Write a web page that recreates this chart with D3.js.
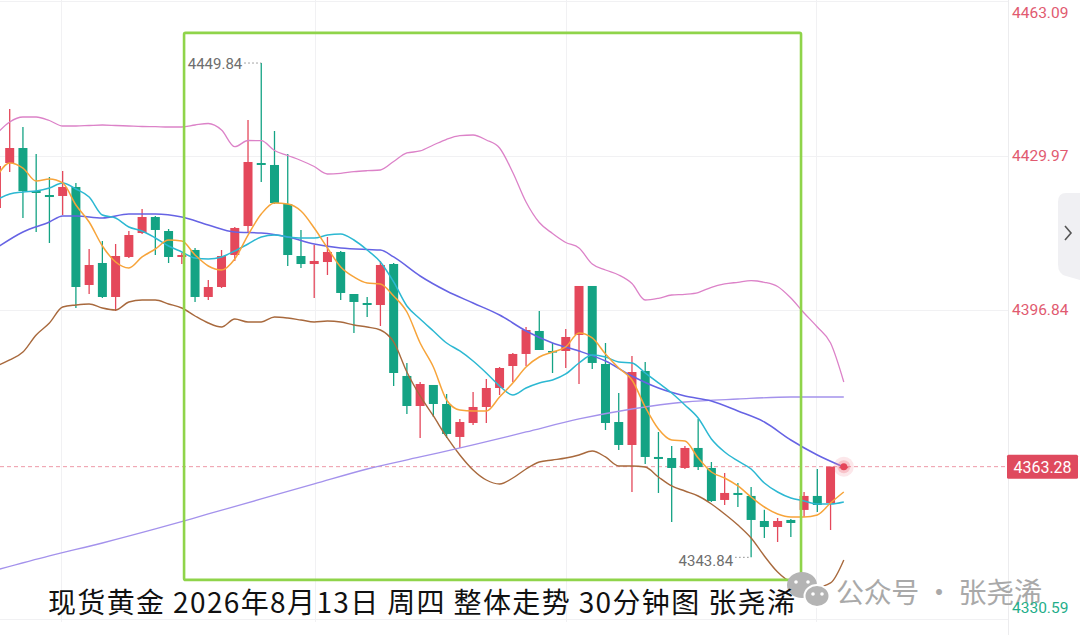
<!DOCTYPE html>
<html lang="zh">
  <head>
    <meta charset="utf-8">
    <title>现货黄金 30分钟图</title>
    <script src="https://cdn.jsdelivr.net/npm/d3@7"></script>
    <style>
      html, body { margin: 0; padding: 0; background: #fff; }
      svg { display: block; }
    </style>
  </head>
  <body>
    <svg width="1080" height="635"></svg>
    <script>
      // candles, index 0 is cut off at the left edge, 64 is the new bar
      const opens = [4418.75, 4428.40, 4431.62, 4422.40, 4421.54, 4421.33, 4423.26, 4402.24, 4406.96, 4399.67,
        4408.25, 4413.39, 4416.82, 4413.82, 4408.25, 4409.75, 4399.67, 4401.81, 4408.67, 4414.89,
        4428.40, 4427.98, 4419.61, 4408.46, 4406.74, 4407.17, 4409.32, 4400.31, 4398.38, 4397.95,
        4406.74, 4382.73, 4376.29, 4380.80, 4376.72, 4369.65, 4372.65, 4376.08, 4380.15, 4384.87,
        4387.45, 4392.38, 4388.09, 4388.09, 4391.52, 4402.03, 4385.30, 4372.86, 4367.93, 4383.80,
        4365.36, 4365.14, 4363.00, 4367.29, 4363.00, 4356.14, 4357.64, 4357.00, 4351.63, 4350.34,
        4351.85, 4354.00, 4357.00, 4355.49, 4363.28]
      const highs = [4428.62, 4439.98, 4436.12, 4430.33, 4425.40, 4426.69, 4424.12, 4409.96, 4411.68, 4411.03,
        4413.82, 4418.54, 4417.04, 4414.25, 4409.10, 4410.18, 4403.31, 4409.75, 4414.68, 4437.63,
        4449.84, 4435.27, 4430.33, 4414.04, 4410.82, 4412.54, 4409.53, 4400.31, 4399.67, 4407.39,
        4406.96, 4385.52, 4381.44, 4380.80, 4378.87, 4373.51, 4379.30, 4382.08, 4384.66, 4387.66,
        4393.24, 4396.67, 4389.80, 4392.81, 4402.03, 4402.03, 4389.80, 4379.08, 4387.02, 4385.73,
        4370.72, 4367.72, 4367.72, 4373.51, 4364.28, 4361.92, 4359.78, 4358.92, 4354.03, 4352.27,
        4352.06, 4357.85, 4362.78, 4363.28, 4363.28]
      const lows = [4417.90, 4426.47, 4416.61, 4413.61, 4411.25, 4417.25, 4397.31, 4400.31, 4399.45, 4396.67,
        4408.03, 4413.18, 4408.67, 4406.96, 4406.74, 4398.60, 4399.03, 4401.60, 4407.39, 4413.39,
        4424.33, 4419.61, 4406.32, 4405.89, 4399.45, 4404.39, 4399.03, 4391.95, 4395.38, 4393.45,
        4380.58, 4374.58, 4369.43, 4373.94, 4369.43, 4367.29, 4372.22, 4372.65, 4378.65, 4381.44,
        4384.87, 4388.30, 4383.37, 4384.44, 4381.01, 4384.23, 4371.15, 4366.86, 4357.85, 4363.86,
        4357.64, 4351.42, 4362.78, 4362.57, 4355.71, 4355.06, 4354.63, 4343.84, 4347.99, 4347.13,
        4348.20, 4352.49, 4353.56, 4349.70, 4363.28]
      const closes = [4427.76, 4431.62, 4422.40, 4421.97, 4421.11, 4423.26, 4401.81, 4406.53, 4399.67, 4408.46,
        4412.96, 4416.82, 4414.04, 4408.25, 4408.67, 4399.67, 4401.81, 4408.46, 4414.47, 4428.62,
        4427.98, 4419.83, 4408.67, 4406.74, 4407.39, 4409.32, 4400.53, 4398.60, 4397.95, 4406.53,
        4383.37, 4376.29, 4381.01, 4376.72, 4370.29, 4372.86, 4376.08, 4380.15, 4384.44, 4387.45,
        4392.59, 4388.30, 4387.87, 4391.09, 4402.03, 4385.52, 4372.65, 4367.93, 4383.58, 4365.36,
        4364.93, 4363.00, 4367.29, 4363.21, 4355.92, 4357.64, 4357.21, 4351.85, 4350.34, 4351.63,
        4351.20, 4357.00, 4355.06, 4363.28, 4363.28]

      // indicator lines
      const maFast = [4425.40, 4428.40, 4427.33, 4424.54, 4424.97, 4424.12, 4419.40, 4415.75, 4410.61, 4407.17,
        4405.89, 4408.25, 4409.96, 4411.89, 4411.68, 4408.68, 4406.32, 4405.46, 4407.82, 4412.96,
        4417.47, 4419.83, 4419.61, 4418.11, 4414.47, 4410.18, 4406.10, 4403.96, 4402.67, 4402.46,
        4399.88, 4396.45, 4389.80, 4384.66, 4377.58, 4375.44, 4375.22, 4375.22, 4378.22, 4381.23,
        4384.66, 4386.80, 4387.87, 4388.95, 4391.95, 4390.88, 4387.44, 4384.44, 4381.87, 4376.08,
        4371.36, 4369.00, 4368.79, 4365.14, 4362.14, 4360.85, 4359.14, 4356.78, 4354.63, 4353.13,
        4352.49, 4352.49, 4352.92, 4355.49, 4357.85]
      const maMid = [4420.47, 4421.76, 4422.19, 4422.40, 4423.04, 4424.12, 4422.83, 4421.11, 4417.25, 4416.61,
        4414.68, 4413.82, 4412.32, 4410.61, 4409.32, 4408.03, 4407.82, 4408.25, 4409.53, 4411.03,
        4412.54, 4412.96, 4412.54, 4412.32, 4412.32, 4412.96, 4413.18, 4411.89, 4409.75, 4407.17,
        4402.89, 4397.74, 4394.95, 4392.38, 4389.80, 4388.09, 4385.94, 4383.37, 4380.58, 4378.65,
        4380.15, 4381.23, 4381.87, 4383.16, 4385.51, 4387.23, 4386.80, 4385.73, 4385.51, 4383.37,
        4381.23, 4379.08, 4376.51, 4373.72, 4369.22, 4366.43, 4364.50, 4362.78, 4359.78, 4357.85,
        4356.56, 4355.92, 4355.28, 4355.28, 4355.71]
      const maSlowIdx = [0, 2, 4, 5, 6, 8, 10, 12, 14, 16, 18, 20, 22, 24, 26, 28, 29, 30, 32, 34,
        36, 38, 40, 42, 44, 46, 48, 50, 52, 54, 56, 58, 60, 62, 64]
      const maSlow = [4410.18, 4413.61, 4415.75, 4417.04, 4417.04, 4416.61, 4417.47, 4417.47, 4416.82, 4415.11,
        4413.61, 4413.39, 4412.54, 4411.03, 4410.18, 4409.85, 4409.75, 4408.25, 4404.17, 4400.95,
        4398.38, 4395.81, 4392.38, 4389.80, 4388.09, 4385.94, 4382.73, 4380.15, 4378.44, 4377.37,
        4375.22, 4372.86, 4369.00, 4365.79, 4363.21]
      const maLongIdx = [0, 4, 8, 12, 16, 20, 24, 28, 32, 36, 40, 44, 48, 52, 56, 60, 64]
      const maLong = [4341.12, 4344.13, 4346.91, 4349.92, 4353.13, 4356.35, 4359.57, 4362.78, 4365.36, 4367.93,
        4370.72, 4373.51, 4375.65, 4377.15, 4377.79, 4378.22, 4378.22]
      const bandUpper = [4434.62, 4437.20, 4438.27, 4438.27, 4437.52, 4436.34, 4436.34, 4436.45, 4436.55, 4436.45,
        4436.34, 4436.23, 4436.19, 4436.12, 4436.12, 4436.55, 4436.88, 4435.48, 4431.90, 4433.23,
        4433.19, 4431.09, 4430.01, 4428.94, 4427.65, 4426.05, 4426.20, 4426.54, 4426.75, 4426.90,
        4428.73, 4430.55, 4430.98, 4432.26, 4433.49, 4434.26, 4434.41, 4433.34, 4431.62, 4426.37,
        4420.04, 4415.64, 4413.29, 4411.36, 4410.18, 4406.75, 4405.46, 4404.39, 4402.56, 4399.02,
        4399.39, 4400.10, 4400.25, 4400.63, 4401.75, 4402.46, 4402.82, 4403.16, 4402.82, 4401.92,
        4399.45, 4396.24, 4393.23, 4389.80, 4381.44]
      const bandLower = [4384.87, 4386.16, 4387.87, 4391.52, 4394.09, 4397.52, 4397.95, 4398.17, 4397.31, 4396.88,
        4398.60, 4399.02, 4399.02, 4398.17, 4397.31, 4395.59, 4394.09, 4393.23, 4394.95, 4394.31,
        4394.31, 4395.38, 4395.16, 4394.74, 4394.31, 4394.52, 4394.31, 4393.66, 4393.23, 4392.59,
        4390.02, 4383.58, 4378.44, 4374.15, 4369.65, 4365.79, 4362.57, 4360.42, 4359.57, 4360.85,
        4362.78, 4364.28, 4364.71, 4365.14, 4365.79, 4366.64, 4365.36, 4363.43, 4363.43, 4363.21,
        4361.07, 4359.14, 4358.06, 4356.99, 4355.28, 4353.13, 4350.77, 4347.99, 4344.13, 4340.69,
        4338.55, 4337.91, 4337.48, 4338.34, 4343.27]

      const axisTicks = [4463.09, 4429.97, 4396.84, 4330.59]
      const lastPrice = 4363.28
      const timeGrid = [4.87, 24.05, 43.0, 61.9]
      const highIdx = 20, lowIdx = 57
      const boxIdx = [14.17, 60.77]
      const boxPrice = [4456.3, 4339.0]
      const title = '现货黄金 2026年8月13日 周四 整体走势 30分钟图 张尧浠'
      const watermark = '公众号 · 张尧浠'

      const upColor = '#e4485b'
      const downColor = '#14a384'
      const plotRight = 1008
      const plotBottom = 622

      const svg = d3.select('svg')
      const x = d3.scaleLinear().domain([0, 64]).range([-3.54, 843.8])
      const y = d3.scaleLinear().domain([4330.59, 4463.09]).range([619.1, 1.26])

      svg.append('defs').append('clipPath').attr('id', 'plotClip')
        .append('rect').attr('x', 0).attr('y', 0).attr('width', plotRight).attr('height', plotBottom)

      // grid
      const grid = svg.append('g').attr('stroke', '#f1f1f3').attr('stroke-width', 1)
      axisTicks.forEach(v => {
        grid.append('line').attr('x1', 0).attr('x2', plotRight)
          .attr('y1', Math.round(y(v)) + 0.5).attr('y2', Math.round(y(v)) + 0.5)
      })
      timeGrid.forEach(i => {
        grid.append('line').attr('y1', 0).attr('y2', plotBottom)
          .attr('x1', Math.round(x(i)) + 0.5).attr('x2', Math.round(x(i)) + 0.5)
      })
      grid.append('line').attr('x1', plotRight + 0.5).attr('x2', plotRight + 0.5)
        .attr('y1', 0).attr('y2', 635).attr('stroke', '#ececee')

      const plot = svg.append('g').attr('clip-path', 'url(#plotClip)')

      // current price dashed line
      plot.append('line')
        .attr('x1', 0).attr('x2', plotRight)
        .attr('y1', y(lastPrice)).attr('y2', y(lastPrice))
        .attr('stroke', '#ee9aa8').attr('stroke-width', 1)
        .attr('stroke-dasharray', '4,3')

      // candles
      const idx = d3.range(opens.length)
      const bodyW = 9
      const candle = plot.append('g').selectAll('g').data(idx).join('g')
        .attr('fill', i => closes[i] >= opens[i] ? upColor : downColor)
        .attr('stroke', i => closes[i] >= opens[i] ? upColor : downColor)
      candle.append('line')
        .attr('x1', i => x(i)).attr('x2', i => x(i))
        .attr('y1', i => y(highs[i])).attr('y2', i => y(lows[i]))
        .attr('stroke-width', 1.3)
      candle.append('rect')
        .attr('x', i => x(i) - bodyW / 2)
        .attr('width', bodyW)
        .attr('y', i => y(Math.max(opens[i], closes[i])))
        .attr('height', i => Math.max(1.6, Math.abs(y(opens[i]) - y(closes[i]))))
        .attr('stroke', 'none')

      // indicator lines
      const line = d3.line().curve(d3.curveMonotoneX)
      const drawLine = (ids, vals, color, w) => {
        plot.append('path')
          .datum(ids.map((d, k) => [x(d), y(vals[k])]))
          .attr('d', line)
          .attr('fill', 'none')
          .attr('stroke', color)
          .attr('stroke-width', w)
          .attr('stroke-linejoin', 'round')
      }
      drawLine(idx, bandUpper, '#dc82c8', 1.3)
      drawLine(idx, bandLower, '#a8693d', 1.4)
      drawLine(maLongIdx, maLong, '#a492ec', 1.3)
      drawLine(maSlowIdx, maSlow, '#6663e4', 1.5)
      drawLine(idx, maMid, '#2cb8d2', 1.5)
      drawLine(idx, maFast, '#f7a43a', 1.5)

      // annotation box
      svg.append('rect')
        .attr('x', x(boxIdx[0])).attr('y', y(boxPrice[0]))
        .attr('width', x(boxIdx[1]) - x(boxIdx[0]))
        .attr('height', y(boxPrice[1]) - y(boxPrice[0]))
        .attr('rx', 1.5)
        .attr('fill', 'none')
        .attr('stroke', '#8fd44a')
        .attr('stroke-width', 2.6)

      // high / low markers
      const markers = svg.append('g').attr('fill', '#6e6e6e').style('font-family', 'Roboto, "Noto Sans", sans-serif').style('font-size', '15px')
      const hx = x(highIdx), hy = y(highs[highIdx])
      markers.append('line').attr('x1', hx - 17).attr('x2', hx).attr('y1', hy).attr('y2', hy)
        .attr('stroke', '#888').attr('stroke-dasharray', '1.5,2.5')
      markers.append('text').attr('x', hx - 19).attr('y', hy + 5.5).attr('text-anchor', 'end')
        .text(highs[highIdx].toFixed(2))
      const lx = x(lowIdx), ly = y(lows[lowIdx])
      markers.append('line').attr('x1', lx - 16).attr('x2', lx).attr('y1', ly).attr('y2', ly)
        .attr('stroke', '#888').attr('stroke-dasharray', '1.5,2.5')
      markers.append('text').attr('x', lx - 18).attr('y', ly + 8.5).attr('text-anchor', 'end')
        .text(lows[lowIdx].toFixed(2))

      // last price dot
      const dot = svg.append('g').attr('transform', `translate(${x(64)},${y(lastPrice)})`)
      dot.append('circle').attr('r', 10).attr('fill', '#f07a8a').attr('opacity', 0.18)
      dot.append('circle').attr('r', 6.5).attr('fill', '#ef6f80').attr('opacity', 0.3)
      dot.append('circle').attr('r', 3.5).attr('fill', '#e5455a')

      // watermark
      const wm = svg.append('g')
      wm.append('ellipse').attr('cx', 802).attr('cy', 585).attr('rx', 15).attr('ry', 13).attr('fill', '#b4b4b4')
      wm.append('ellipse').attr('cx', 817).attr('cy', 596).attr('rx', 12.5).attr('ry', 11).attr('fill', '#b4b4b4')
        .attr('stroke', '#fff').attr('stroke-width', 2)
      wm.selectAll('circle.eye').data([[796, 582], [808, 582], [813, 594], [822, 594]]).join('circle')
        .attr('cx', d => d[0]).attr('cy', d => d[1]).attr('r', 1.8).attr('fill', '#fff')
      wm.append('text')
        .attr('x', 836).attr('y', 603)
        .attr('fill', '#a9a9a9')
        .style('font-family', '"Noto Sans CJK SC", sans-serif')
        .style('font-size', '28px')
        .attr('textLength', 206)
        .text(watermark)

      // right axis labels
      const axisG = svg.append('g').style('font-family', 'Roboto, "Noto Sans", sans-serif').style('font-size', '15.5px')
      axisTicks.forEach((v, k) => {
        const ty = Math.min(Math.max(y(v), 13), 608)
        axisG.append('text')
          .attr('x', 1012).attr('y', ty)
          .attr('dominant-baseline', 'central')
          .attr('fill', k === axisTicks.length - 1 ? '#1fae8a' : '#e15a70')
          .text(v.toFixed(2))
      })
      axisG.append('rect')
        .attr('x', 1007).attr('y', y(lastPrice) - 12).attr('width', 71).attr('height', 24)
        .attr('rx', 1.5).attr('fill', '#df4a5e')
      axisG.append('text')
        .attr('x', 1042.5).attr('y', y(lastPrice) + 0.5)
        .attr('text-anchor', 'middle').attr('dominant-baseline', 'central')
        .attr('fill', '#fff').style('font-size', '16px')
        .text(lastPrice.toFixed(2))

      // side tab with chevron
      svg.append('path')
        .attr('d', 'M1080,193 L1066,193 Q1058,193 1058,202 L1058,264 Q1058,274 1066,276 L1080,280 Z')
        .attr('fill', '#f0f0f3')
      svg.append('path')
        .attr('d', 'M1065,226 L1071,233 L1065,240')
        .attr('fill', 'none').attr('stroke', '#555').attr('stroke-width', 1.6)

      // title
      svg.append('text')
        .attr('x', 48).attr('y', 613)
        .attr('fill', '#111')
        .style('font-family', '"Noto Sans CJK SC", sans-serif')
        .style('font-size', '28px')
        .attr('textLength', 747)
        .attr('lengthAdjust', 'spacing')
        .text(title)
    </script>
  </body>
</html>
